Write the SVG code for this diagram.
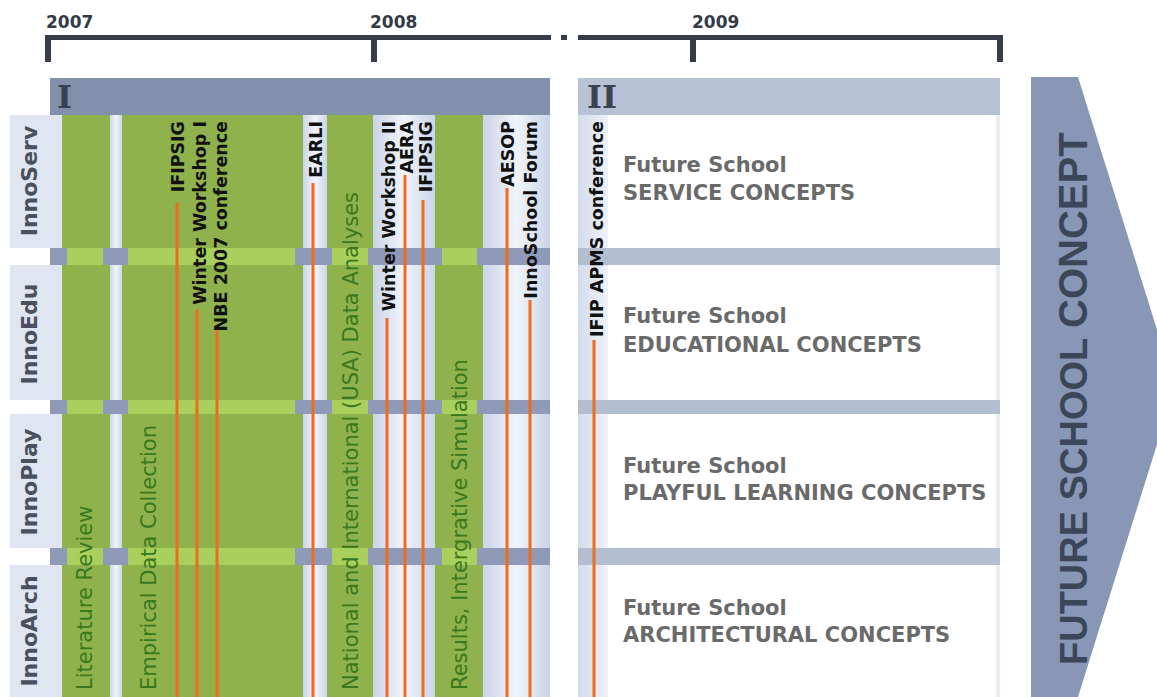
<svg xmlns="http://www.w3.org/2000/svg" width="1157" height="697" viewBox="0 0 1157 697">
<defs>
<style>
.yr{font-family:"DejaVu Sans",sans-serif;font-weight:bold;font-size:17px;fill:#343a46}
.row{font-family:"DejaVu Sans",sans-serif;font-weight:bold;font-size:22px;fill:#4a505e}
.grn{font-family:"DejaVu Sans",sans-serif;font-size:21px;fill:#3a771d}
.ev{font-family:"DejaVu Sans",sans-serif;font-weight:bold;font-size:17.5px;fill:#111}
.fs{font-family:"DejaVu Sans",sans-serif;font-weight:bold;font-size:21px;fill:#6a6a6a}
.rom{font-family:"DejaVu Serif",serif;font-weight:bold;font-size:32px;fill:#3a4150}
.tl{fill:#363c48}
.lbl{fill:#dfe6f1}
.col{fill:#8fb24c}
.str{fill:url(#stripe)}
.sep{fill:#8e9ab8}
.lsep{fill:#a9cf5c}
.sep2{fill:#b4bed1}
.ln{stroke:#f26a1b;stroke-width:3}
.big{font-family:"Liberation Sans",Arial,sans-serif;font-weight:bold;fill:#3c4659}
</style>
<linearGradient id="stripe" x1="0" y1="0" x2="1" y2="0">
<stop offset="0" stop-color="#cbd5e9"/>
<stop offset="0.5" stop-color="#f0f4fa"/>
<stop offset="1" stop-color="#cbd5e9"/>
</linearGradient>
<linearGradient id="strip2" x1="0" y1="0" x2="1" y2="0">
<stop offset="0" stop-color="#d3dcec"/>
<stop offset="1" stop-color="#eef2f8"/>
</linearGradient>
</defs>
<rect width="1157" height="697" fill="#ffffff"/>

<g id="timeline">
<rect class="tl" x="45" y="35" width="506" height="5"/>
<rect class="tl" x="561" y="35" width="6" height="5"/>
<rect class="tl" x="578" y="35" width="425" height="5"/>
<rect class="tl" x="45" y="35" width="6" height="27"/>
<rect class="tl" x="371" y="35" width="6" height="27"/>
<rect class="tl" x="690" y="35" width="6" height="27"/>
<rect class="tl" x="997" y="35" width="6" height="27"/>
<text class="yr" x="46" y="28">2007</text>
<text class="yr" x="370" y="28">2008</text>
<text class="yr" x="692" y="28">2009</text>
</g>

<g id="phase-I">
<rect x="50" y="78" width="500" height="37" fill="#8191ab"/>
<text class="rom" x="57" y="108">I</text>
<rect class="str" x="110" y="115" width="12" height="582"/>
<rect class="str" x="303" y="115" width="24" height="582"/>
<rect class="str" x="373" y="115" width="62" height="582"/>
<rect class="str" x="483" y="115" width="67" height="582"/>
<rect class="col" x="62" y="115" width="48" height="582"/>
<rect class="col" x="122" y="115" width="181" height="582"/>
<rect class="col" x="327" y="115" width="46" height="582"/>
<rect class="col" x="435" y="115" width="48" height="582"/>
</g>

<g id="rows">
<g id="row-innoserv">
<rect class="lbl" x="10" y="115" width="52" height="133"/>
<text class="row" text-anchor="middle" transform="translate(37,181) rotate(-90)">InnoServ</text>
</g>
<g id="row-innoedu">
<rect class="lbl" x="10" y="265" width="52" height="135"/>
<text class="row" text-anchor="middle" transform="translate(37,334) rotate(-90)">InnoEdu</text>
</g>
<g id="row-innoplay">
<rect class="lbl" x="10" y="414" width="52" height="134"/>
<text class="row" text-anchor="middle" transform="translate(37,482) rotate(-90)">InnoPlay</text>
</g>
<g id="row-innoarch">
<rect class="lbl" x="10" y="565" width="52" height="132"/>
<text class="row" text-anchor="middle" transform="translate(37,631) rotate(-90)">InnoArch</text>
</g>
</g>

<g id="separators">
<rect class="sep" x="50" y="248" width="500" height="17"/>
<rect class="lsep" x="67" y="248" width="36" height="17"/>
<rect class="lsep" x="128" y="248" width="167" height="17"/>
<rect class="lsep" x="332" y="248" width="36" height="17"/>
<rect class="lsep" x="442" y="248" width="35" height="17"/>
<rect class="sep" x="50" y="400" width="500" height="14"/>
<rect class="lsep" x="67" y="400" width="36" height="14"/>
<rect class="lsep" x="128" y="400" width="167" height="14"/>
<rect class="lsep" x="332" y="400" width="36" height="14"/>
<rect class="lsep" x="442" y="400" width="35" height="14"/>
<rect class="sep" x="50" y="548" width="500" height="17"/>
<rect class="lsep" x="67" y="548" width="36" height="17"/>
<rect class="lsep" x="128" y="548" width="167" height="17"/>
<rect class="lsep" x="332" y="548" width="36" height="17"/>
<rect class="lsep" x="442" y="548" width="35" height="17"/>
</g>

<g id="activities">
<text class="grn" transform="translate(92,690) rotate(-90)">Literature Review</text>
<text class="grn" transform="translate(156,690) rotate(-90)">Empirical Data Collection</text>
<text class="grn" transform="translate(358,690) rotate(-90)">National and International (USA) Data Analyses</text>
<text class="grn" transform="translate(467,690) rotate(-90)">Results, Intergrative Simulation</text>
</g>

<g id="phase-II">
<rect x="578" y="78" width="422" height="37" fill="#b8c2d5"/>
<text class="rom" x="587" y="108">II</text>
<rect x="578" y="115" width="30" height="582" fill="url(#strip2)"/>
<rect x="996" y="115" width="4" height="582" fill="#e8edf5"/>
<rect class="sep2" x="578" y="248" width="422" height="17"/>
<rect class="sep2" x="578" y="400" width="422" height="14"/>
<rect class="sep2" x="578" y="548" width="422" height="17"/>
<g id="concept-service">
<text class="fs" x="623" y="172">Future School</text>
<text class="fs" x="623" y="200">SERVICE CONCEPTS</text>
</g>
<g id="concept-educational">
<text class="fs" x="623" y="323">Future School</text>
<text class="fs" x="623" y="352">EDUCATIONAL CONCEPTS</text>
</g>
<g id="concept-playful">
<text class="fs" x="623" y="473">Future School</text>
<text class="fs" x="623" y="500">PLAYFUL LEARNING CONCEPTS</text>
</g>
<g id="concept-architectural">
<text class="fs" x="623" y="615">Future School</text>
<text class="fs" x="623" y="642">ARCHITECTURAL CONCEPTS</text>
</g>
</g>

<g id="connectors">
<line class="ln" x1="177" y1="203" x2="177" y2="697"/>
<line class="ln" x1="197" y1="310" x2="197" y2="697"/>
<line class="ln" x1="217" y1="330" x2="217" y2="697"/>
<line class="ln" x1="313" y1="183" x2="313" y2="697"/>
<line class="ln" x1="387" y1="318" x2="387" y2="697"/>
<line class="ln" x1="405" y1="175" x2="405" y2="697"/>
<line class="ln" x1="423" y1="200" x2="423" y2="697"/>
<line class="ln" x1="507" y1="188" x2="507" y2="697"/>
<line class="ln" x1="530" y1="300" x2="530" y2="697"/>
<line class="ln" x1="594" y1="340" x2="594" y2="697"/>
</g>

<g id="events">
<text class="ev" text-anchor="end" transform="translate(184,121) rotate(-90)">IFIPSIG</text>
<text class="ev" text-anchor="end" transform="translate(206,121) rotate(-90)">Winter Workshop I</text>
<text class="ev" text-anchor="end" transform="translate(227,121) rotate(-90)">NBE 2007 conference</text>
<text class="ev" text-anchor="end" transform="translate(322,121) rotate(-90)">EARLI</text>
<text class="ev" text-anchor="end" transform="translate(395,121) rotate(-90)">Winter Workshop II</text>
<text class="ev" text-anchor="end" transform="translate(413,121) rotate(-90)">AERA</text>
<text class="ev" text-anchor="end" transform="translate(432,121) rotate(-90)">IFIPSIG</text>
<text class="ev" text-anchor="end" transform="translate(514,121) rotate(-90)">AESOP</text>
<text class="ev" text-anchor="end" transform="translate(537,121) rotate(-90)">InnoSchool Forum</text>
<text class="ev" text-anchor="end" transform="translate(603,121) rotate(-90)">IFIP APMS conference</text>
</g>

<g id="future-school-concept">
<polygon points="1031,77 1078,77 1175,387 1078,697 1031,697" fill="#8797b5"/>
<text class="big" transform="translate(1087,665) rotate(-90)"><tspan font-size="38">FUTURE SCHOOL </tspan><tspan font-size="40">CONCEPT</tspan></text>
</g>
</svg>
